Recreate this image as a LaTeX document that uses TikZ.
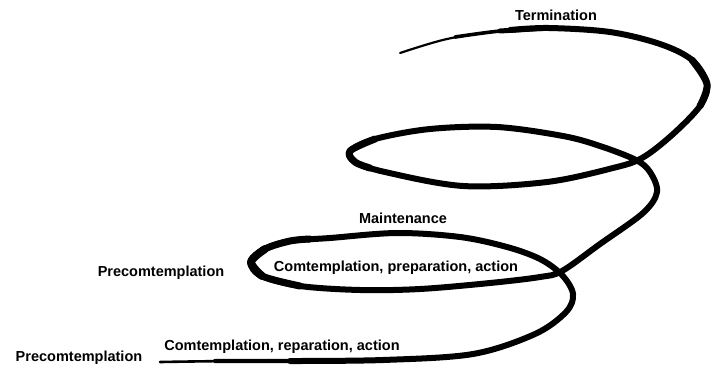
\documentclass[tikz,border=0pt]{standalone}
\usepackage{fontspec}
\setmainfont{Liberation Sans}
\begin{document}
\begin{tikzpicture}[x=1pt, y=-1pt,
        stage/.style={font=\fontsize{14.5}{17}\selectfont\bfseries, inner sep=0pt},
        coil/.style={black, line cap=round, line join=round}]
        \useasboundingbox (0,0) rectangle (718,365);
        % tapered tips
        \draw[coil, line width=2.6] plot[smooth, tension=0.55] coordinates {
            (160,362) (230,361) (300,361) (383,360)};
        \draw[coil, line width=4.2] plot[smooth, tension=0.55] coordinates {
            (215,361) (300,361) (383,360)};
        \draw[coil, line width=2.2] plot[smooth, tension=0.55] coordinates {
            (549,28) (500,31) (447,39) (400,53)};
        \draw[coil, line width=3.6] plot[smooth, tension=0.55] coordinates {
            (549,28) (500,31) (455,37)};
        \draw[coil, line width=5] plot[smooth, tension=0.55] coordinates {
            (549,28) (500,31)};
        % body of the coil
        \draw[coil, line width=6] plot[smooth, tension=0.55] coordinates {
            (290,361) (383,360) (473,354) (535,334) (566,312)
            (573,294) (562,275) (540,259) (507,247) (460,237) (397,233) (330,238)
            (290,241) (265,249) (251,262) (262,276) (300,286) (360,290) (420,289)
            (490,283) (540,277) (562,271) (600,244) (643,213) (657,192) (650,172)
            (636,160) (600,146) (563,136) (497,127) (430,129) (375,139) (350,151)
            (355,162) (385,172) (463,186) (547,182) (613,168) (642,158) (672,135)
            (700,106) (707,84) (692,60) (660,44) (610,32) (549,28) (510,30)};
        % heavier brush on the turns
        \draw[coil, line width=7] plot[smooth, tension=0.55] coordinates {
            (310,239) (290,241) (265,249) (251,262) (262,276) (300,286)};
        \draw[coil, line width=8] plot[smooth, tension=0.55] coordinates {
            (265,249) (251,262) (262,276)};
        \draw[coil, line width=7] plot[smooth, tension=0.55] coordinates {
            (375,139) (350,151) (355,162) (370,168)};
        \draw[coil, line width=7] plot[smooth, tension=0.55] coordinates {
            (700,106) (707,84) (692,60)};
        % stage labels
        \node[stage] (term) at (556,15) {Termination};
        \node[stage] (maint) at (403,218) {Maintenance};
        \node[stage] (cpa2) at (396,268) {Comtemplation, preparation, action};
        \node[stage] (pre2) at (161,273) {Precomtemplation};
        \node[stage] (cpa1) at (282,347) {Comtemplation, reparation, action};
        \node[stage] (pre1) at (79,358) {Precomtemplation};
\end{tikzpicture}
\end{document}
